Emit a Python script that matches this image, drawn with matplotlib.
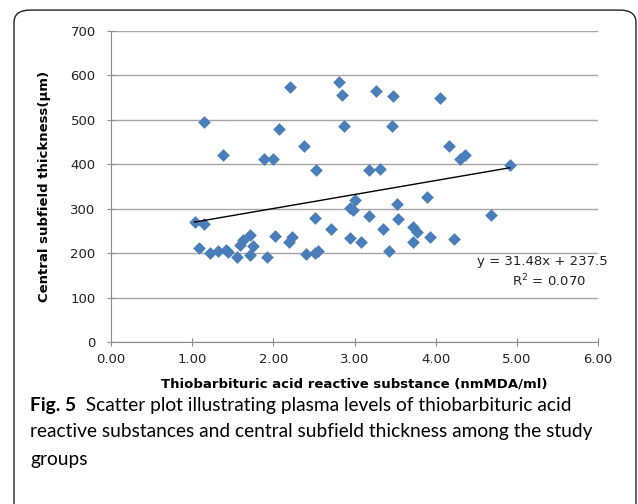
import numpy as np
import matplotlib
matplotlib.use("Agg")
import matplotlib.pyplot as plt
from matplotlib.patches import FancyBboxPatch

# TBARS (nmMDA/ml) vs central subfield thickness (um)
tbars = [1.15, 1.38, 1.88, 1.99, 2.07, 2.21, 2.38, 2.52, 2.81, 2.84, 2.87,
         3.18, 3.26, 3.31, 3.46, 3.47, 4.05, 4.17, 4.30, 4.36, 4.91,
         1.03, 1.14, 1.08, 1.22, 1.32, 1.42, 1.44, 1.55, 1.59, 1.63,
         1.71, 1.75, 1.71, 1.92, 2.02, 2.19, 2.23, 2.40, 2.51, 2.55,
         2.51, 2.71, 2.94, 2.98, 3.00, 2.95, 3.08, 3.18, 3.35, 3.42,
         3.52, 3.54, 3.72, 3.77, 3.72, 3.89, 3.93, 4.22, 4.68]
thickness = [496, 420, 411, 411, 480, 574, 441, 387, 586, 556, 486,
             387, 565, 389, 486, 554, 550, 441, 411, 421, 399,
             270, 266, 211, 200, 205, 207, 203, 191, 218, 230,
             241, 216, 196, 192, 239, 226, 236, 198, 200, 205,
             279, 254, 301, 297, 320, 233, 226, 284, 254, 205,
             311, 276, 258, 248, 226, 326, 237, 231, 286]

# trendline as printed on the chart
slope = 31.48
intercept = 237.5
r2_text = "0.070"

x_ticks = [0, 1, 2, 3, 4, 5, 6]
y_ticks = [0, 100, 200, 300, 400, 500, 600, 700]

fig = plt.figure(figsize=(6.38, 5.04), dpi=100)

# frame round the whole figure (open at the bottom)
frame = FancyBboxPatch((14 / 638, -0.2), 622 / 638, 1.18, transform=fig.transFigure,
                       boxstyle="round,pad=0,rounding_size=0.025",
                       fc="none", ec="#222222", lw=1.0)
fig.patches.append(frame)

ax = fig.add_axes([111 / 638, 1 - 342 / 504, 487 / 638, 311 / 504])

ax.scatter(tbars, thickness, marker="D", s=42, color="#4a7ebb", zorder=3,
           linewidths=0)

xs = np.array([min(tbars), max(tbars)])
ax.plot(xs, slope * xs + intercept, color="black", lw=1.0, zorder=4)

ax.set_xlim(0, 6)
ax.set_ylim(0, 700)
ax.set_xticks(x_ticks)
ax.set_xticklabels(["%.2f" % v for v in x_ticks])
ax.set_yticks(y_ticks)
ax.yaxis.grid(True, color="#a6a6a6", lw=1.0)
ax.set_axisbelow(True)
for s in ["top", "right"]:
    ax.spines[s].set_visible(False)
for s in ["left", "bottom"]:
    ax.spines[s].set_color("#8c8c8c")
ax.tick_params(direction="inout", length=6, color="#8c8c8c",
               labelsize=9.5, labelcolor="#222222")
ax.tick_params(axis="x", pad=5)
ax.tick_params(axis="y", pad=8)

ax.set_xlabel("Thiobarbituric acid reactive substance (nmMDA/ml)",
              fontsize=9.5, fontweight="bold", labelpad=8)
ax.set_ylabel("Central subfield thickness(\u00b5m)", fontsize=9.5,
              fontweight="bold", labelpad=14)

ax.text(6.12, 182, "y = 31.48x + 237.5", ha="right", va="center", fontsize=9.5,
        color="#222222", clip_on=False)
ax.text(5.4, 137, "R$^2$ = " + r2_text, ha="center", va="center", fontsize=9.5,
        color="#222222")

# caption
cap_font = ["Lato", "DejaVu Sans"]
t1 = fig.text(30 / 638, 1 - 405 / 504, "Fig. 5", fontsize=13.8, fontweight="bold",
              family=cap_font, va="center")
ax.annotate("  Scatter plot illustrating plasma levels of thiobarbituric acid",
            xy=(1, 0.5), xycoords=t1, va="center", ha="left",
            fontsize=13.8, family=cap_font, annotation_clip=False)
fig.text(30 / 638, 1 - 432 / 504,
         "reactive substances and central subfield thickness among the study",
         fontsize=13.8, family=cap_font, va="center")
fig.text(30 / 638, 1 - 460 / 504, "groups", fontsize=13.8, family=cap_font,
         va="center")

fig.savefig("out.png", dpi=100)
